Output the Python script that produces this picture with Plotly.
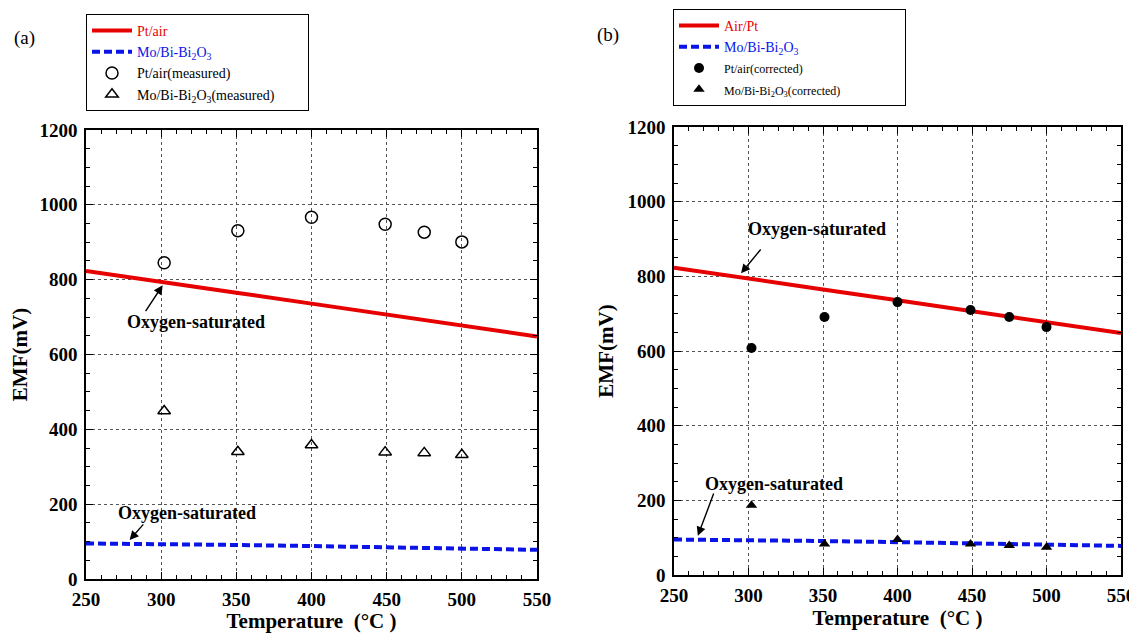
import plotly.graph_objects as go

# ---------------- data ----------------
temp_line = [250, 300, 350, 400, 450, 500, 550]
pt_air_line = [823, 795, 765, 736, 706, 677, 648]
mobi_line = [95, 94, 91, 88, 85, 82, 78]

temp_pts = [302, 351, 400, 449, 475, 500]
pt_air_measured = [845, 931, 967, 948, 927, 901]
mobi_measured = [449, 340, 358, 339, 337, 332]

pt_air_corrected = [608, 691, 731, 710, 691, 664]
mobi_corrected = [187, 83, 95, 83, 79, 74]

x_ticks = [250, 300, 350, 400, 450, 500, 550]
y_ticks = [0, 200, 400, 600, 800, 1000, 1200]

# page body has an 8px margin; the figure is sized so that it ends at the window edge
OFF = 8
W, H = 1137 - OFF, 633 - OFF
FONT = "Liberation Serif, Times New Roman, serif"
RED = "#e60000"
BLUE = "#0a14e6"

def px_x(p):
    return (p - OFF) / W

def px_y(p):
    return 1 - (p - OFF) / H

fig = go.Figure()

# Panel (a)
fig.add_trace(go.Scatter(x=temp_line, y=pt_air_line, mode="lines",
                         line=dict(color=RED, width=4),
                         name='<span style="color:#e60000">Pt/air</span>',
                         xaxis="x", yaxis="y", legend="legend"))
fig.add_trace(go.Scatter(x=temp_line, y=mobi_line, mode="lines",
                         line=dict(color=BLUE, width=4, dash="8px,4px"),
                         name='<span style="color:#0a14e6">Mo/Bi-Bi<sub>2</sub>O<sub>3</sub></span>',
                         xaxis="x", yaxis="y", legend="legend"))
fig.add_trace(go.Scatter(x=temp_pts, y=pt_air_measured, mode="markers",
                         marker=dict(symbol="circle-open", size=12, color="black",
                                     line=dict(width=1.5, color="black")),
                         name="Pt/air(measured)",
                         xaxis="x", yaxis="y", legend="legend"))
fig.add_trace(go.Scatter(x=temp_pts, y=mobi_measured, mode="markers",
                         marker=dict(symbol="triangle-up-open", size=11, color="black",
                                     line=dict(width=1.5, color="black")),
                         name="Mo/Bi-Bi<sub>2</sub>O<sub>3</sub>(measured)        ",
                         xaxis="x", yaxis="y", legend="legend"))

# Panel (b)
fig.add_trace(go.Scatter(x=temp_line, y=pt_air_line, mode="lines",
                         line=dict(color=RED, width=4),
                         name='<span style="color:#e60000">Air/Pt</span>',
                         xaxis="x2", yaxis="y2", legend="legend2"))
fig.add_trace(go.Scatter(x=temp_line, y=mobi_line, mode="lines",
                         line=dict(color=BLUE, width=4, dash="8px,4px"),
                         name='<span style="color:#0a14e6">Mo/Bi-Bi<sub>2</sub>O<sub>3</sub></span>',
                         xaxis="x2", yaxis="y2", legend="legend2"))
fig.add_trace(go.Scatter(x=temp_pts, y=pt_air_corrected, mode="markers",
                         marker=dict(symbol="circle", size=10, color="black"),
                         name='<span style="font-size:12px">Pt/air(corrected)</span>',
                         xaxis="x2", yaxis="y2", legend="legend2"))
fig.add_trace(go.Scatter(x=temp_pts, y=mobi_corrected, mode="markers",
                         marker=dict(symbol="triangle-up", size=10, color="black"),
                         name='<span style="font-size:12px">Mo/Bi-Bi<sub>2</sub>O<sub>3</sub>(corrected)</span>                 ',
                         xaxis="x2", yaxis="y2", legend="legend2"))

def xaxis_cfg(domain, anchor):
    return dict(domain=domain, anchor=anchor, range=[250, 550], automargin=False,
                tickvals=x_ticks, ticktext=[str(t) for t in x_ticks],
                ticks="inside", ticklen=7, tickwidth=1, tickcolor="black",
                minor=dict(dtick=10, ticks="inside", ticklen=4, tickcolor="black", showgrid=False),
                showline=True, linecolor="black", linewidth=1.5, mirror="allticks",
                showgrid=True, gridcolor="#555555", griddash="dot", gridwidth=1,
                zeroline=False, ticklabelstandoff=2,
                tickfont=dict(family=FONT, size=19, color="black", weight="bold"),
                title=dict(text="Temperature  (°C )", standoff=6,
                           font=dict(family=FONT, size=21, color="black", weight="bold")))

def yaxis_cfg(domain, anchor):
    return dict(domain=domain, anchor=anchor, range=[0, 1200], automargin=False,
                tickvals=y_ticks, ticktext=[str(t) for t in y_ticks],
                ticks="inside", ticklen=7, tickwidth=1, tickcolor="black",
                minor=dict(dtick=50, ticks="inside", ticklen=4, tickcolor="black", showgrid=False),
                showline=True, linecolor="black", linewidth=1.5, mirror="allticks",
                showgrid=True, gridcolor="#555555", griddash="dot", gridwidth=1,
                zeroline=False, ticklabelstandoff=3,
                tickfont=dict(family=FONT, size=19, color="black", weight="bold"),
                title=dict(text="EMF(mV)", standoff=8,
                           font=dict(family=FONT, size=21, color="black", weight="bold")))

fig.update_layout(
    width=W, height=H,
    font=dict(family=FONT, color="black"),
    margin=dict(l=0, r=0, t=0, b=0, autoexpand=False),
    paper_bgcolor="white", plot_bgcolor="white",
    xaxis=xaxis_cfg([px_x(86), px_x(537)], "y"),
    yaxis=yaxis_cfg([px_y(579), px_y(130)], "x"),
    xaxis2=xaxis_cfg([px_x(674), px_x(1121)], "y2"),
    yaxis2=yaxis_cfg([px_y(575), px_y(127)], "x2"),
    legend=dict(x=px_x(86), y=px_y(14), xanchor="left", yanchor="top",
                bordercolor="black", borderwidth=1, bgcolor="white",
                font=dict(family=FONT, size=14, color="black"),
                tracegroupgap=0, itemwidth=40),
    legend2=dict(x=px_x(673), y=px_y(9), xanchor="left", yanchor="top",
                 bordercolor="black", borderwidth=1, bgcolor="white",
                 font=dict(family=FONT, size=14, color="black"),
                 tracegroupgap=0, itemwidth=40),
    showlegend=True,
)

ann_font = dict(family=FONT, size=18, color="black", weight="bold")
arrow = dict(showarrow=True, arrowhead=2, arrowsize=1.3, arrowwidth=1.4,
             arrowcolor="black", text="")
annotations = [
    # panel (a)
    dict(x=301, y=785, ax=289, ay=712, xref="x", yref="y", axref="x", ayref="y", **arrow),
    dict(x=323, y=687, xref="x", yref="y", text="Oxygen-saturated",
         showarrow=False, font=ann_font),
    dict(x=279, y=104, ax=289, ay=150, xref="x", yref="y", axref="x", ayref="y", **arrow),
    dict(x=317, y=176, xref="x", yref="y", text="Oxygen-saturated",
         showarrow=False, font=ann_font),
    # panel (b)
    dict(x=295, y=808, ax=309, ay=876, xref="x2", yref="y2", axref="x2", ayref="y2", **arrow),
    dict(x=346, y=927, xref="x2", yref="y2", text="Oxygen-saturated",
         showarrow=False, font=ann_font),
    dict(x=266, y=105, ax=277, ay=222, xref="x2", yref="y2", axref="x2", ayref="y2", **arrow),
    dict(x=317, y=244, xref="x2", yref="y2", text="Oxygen-saturated",
         showarrow=False, font=ann_font),
    # panel labels
    dict(x=px_x(12), y=px_y(25), xref="paper", yref="paper", text="(a)",
         showarrow=False, xanchor="left", font=dict(family=FONT, size=19, color="black")),
    dict(x=px_x(595), y=px_y(22), xref="paper", yref="paper", text="(b)",
         showarrow=False, xanchor="left", font=dict(family=FONT, size=19, color="black")),
]
fig.update_layout(annotations=annotations)

fig.write_html("out.html")
